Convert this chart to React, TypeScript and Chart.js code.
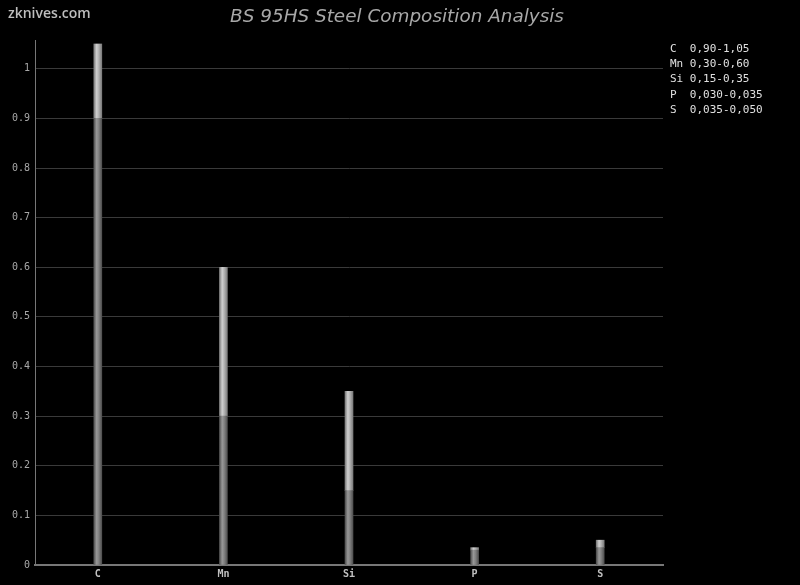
import React, { useEffect, useRef } from 'react';
import { Chart, registerables } from 'chart.js';

Chart.register(...registerables);

const elements = ['C', 'Mn', 'Si', 'P', 'S'];
const minValues = [0.9, 0.3, 0.15, 0.03, 0.035];
const maxValues = [1.05, 0.6, 0.35, 0.035, 0.05];
const decimals = [2, 2, 2, 3, 3];
const rangeValues = maxValues.map((v, i) => +(v - minValues[i]).toFixed(4));
const titleText = 'BS 95HS Steel Composition Analysis';
const watermarkText = 'zknives.com';
const legendLines = elements.map(
  (e, i) =>
    (e + '   ').slice(0, 3) +
    minValues[i].toFixed(decimals[i]).replace('.', ',') +
    '-' +
    maxValues[i].toFixed(decimals[i]).replace('.', ',')
);

function barFill(light: boolean) {
  return (ctx: any) => {
    const chart = ctx.chart;
    const xs = chart.scales && chart.scales.x;
    const fallback = light ? '#bbb' : '#777';
    if (!xs || ctx.dataIndex === undefined) return fallback;
    const cx = xs.getPixelForValue(ctx.dataIndex);
    if (!Number.isFinite(cx)) return fallback;
    const g = chart.ctx.createLinearGradient(cx - 4, 0, cx + 4, 0);
    if (light) {
      g.addColorStop(0, '#7a7a7a');
      g.addColorStop(0.35, '#cfcfcf');
      g.addColorStop(0.6, '#b4b4b4');
      g.addColorStop(1, '#7c7c7c');
    } else {
      g.addColorStop(0, '#4e4e4e');
      g.addColorStop(0.35, '#989898');
      g.addColorStop(0.6, '#838383');
      g.addColorStop(1, '#505050');
    }
    return g;
  };
}

const textPlugin = {
  id: 'textPlugin',
  beforeDraw(chart: any) {
    const c = chart.ctx;
    c.save();
    c.fillStyle = '#000';
    c.fillRect(0, 0, chart.width, chart.height);
    c.restore();
  },
  afterDraw(chart: any) {
    const c = chart.ctx;
    c.save();
    c.textBaseline = 'middle';
    c.textAlign = 'left';
    c.fillStyle = '#bdbdbd';
    c.font = '600 14px "Open Sans"';
    c.fillText(watermarkText, 8, 14);
    c.textAlign = 'center';
    c.fillStyle = '#a8a8a8';
    c.font = 'italic 18.4px "DejaVu Sans"';
    c.fillText(titleText, 397, 17);
    c.textAlign = 'left';
    c.fillStyle = '#e0e0e0';
    c.font = '11px "DejaVu Sans Mono"';
    legendLines.forEach((t, i) => {
      c.fillText(t, 670, 49 + i * 15.3);
    });
    c.restore();
  },
};

export default function App() {
  const ref = useRef<HTMLCanvasElement | null>(null);
  useEffect(() => {
    if (!ref.current) return;
    const chart = new Chart(ref.current, {
      type: 'bar',
      data: {
        labels: elements,
        datasets: [
          {
            label: 'min',
            data: minValues,
            backgroundColor: barFill(false),
            barThickness: 8,
            borderWidth: 0,
          },
          {
            label: 'range',
            data: rangeValues,
            backgroundColor: barFill(true),
            barThickness: 8,
            borderWidth: 0,
          },
        ],
      },
      options: {
        animation: false,
        responsive: true,
        maintainAspectRatio: false,
        layout: { padding: { top: 40, right: 137, bottom: 0, left: 0 } },
        plugins: {
          legend: { display: false },
          title: { display: false },
          tooltip: { enabled: false },
        },
        scales: {
          x: {
            stacked: true,
            grid: { display: false, drawTicks: false },
            border: { color: '#777', width: 2 },
            ticks: {
              color: '#c0c0c0',
              font: { family: '"DejaVu Sans Mono"', size: 10, weight: 'bold' },
              padding: 3,
            },
            afterFit: (s: any) => {
              s.height = 20;
            },
          },
          y: {
            stacked: true,
            min: 0,
            max: 1.058,
            grid: { color: '#3a3a3a', lineWidth: 1, drawTicks: false },
            border: { color: '#777', width: 1 },
            ticks: {
              stepSize: 0.1,
              color: '#a8a8a8',
              font: { family: '"DejaVu Sans Mono"', size: 10 },
              padding: 5,
              callback: (v: any) => String(+(+v).toFixed(2)),
            },
            afterBuildTicks: (s: any) => {
              s.ticks = s.ticks.filter(
                (t: any) => Math.abs(t.value * 10 - Math.round(t.value * 10)) < 1e-6
              );
            },
            afterFit: (s: any) => {
              s.width = 35;
            },
          },
        },
      },
      plugins: [textPlugin],
    });
    return () => chart.destroy();
  }, []);
  return (
    <div style={{ position: 'fixed', left: 0, top: 0, width: 800, height: 585, background: '#000' }}>
      <canvas ref={ref} />
    </div>
  );
}
